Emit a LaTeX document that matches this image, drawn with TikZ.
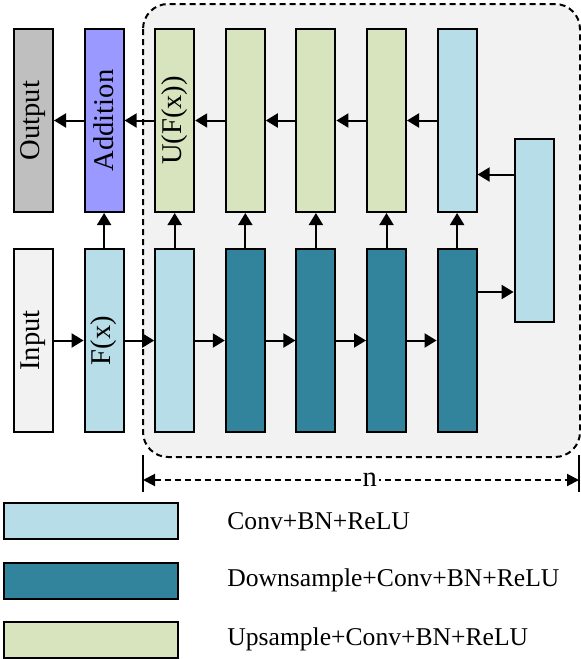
\documentclass[tikz,border=0pt]{standalone}
\usepackage{fontspec}
\setmainfont{Liberation Serif}
\usepackage{xcolor}
\definecolor{convBlue}{HTML}{B7DDE8}
\definecolor{downTeal}{HTML}{31849B}
\definecolor{upGreen}{HTML}{D7E4BD}
\definecolor{outGray}{HTML}{BFBFBF}
\definecolor{addViolet}{HTML}{9999FF}
\definecolor{inGray}{HTML}{F2F2F2}
\usetikzlibrary{arrows.meta, positioning, calc}

\begin{document}
\begin{tikzpicture}[
    x=0.5pt, y=-0.5pt,
    node distance=17.5pt and 14.8pt,
    layer/.style={rectangle, draw=black, line width=1pt, minimum width=19.5pt, minimum height=91.5pt, inner sep=0pt, font=\fontsize{14.3}{16}\selectfont},
    legbox/.style={rectangle, draw=black, line width=1pt, minimum width=87pt, minimum height=18pt, inner sep=0pt},
    legtext/.style={anchor=west, inner sep=0pt, font=\fontsize{12.8}{15}\selectfont},
    arrow/.style={-{Triangle[length=6pt, width=7pt]}, line width=1pt},
    dim_arrow/.style={{Triangle[length=6pt, width=6pt]}-{Triangle[length=6pt, width=6pt]}, line width=1pt, densely dashed}
]
    \useasboundingbox (0,0) rectangle (581,659);

    % Repeated block
    \draw[densely dashed, line width=1pt, fill=inGray, rounded corners=12.5pt] (143,4) rectangle (580,457);

    % Nodes: lower row
    \node[layer, fill=inGray] (input) at (33.5,340.5) {\rotatebox{90}{Input}};
    \node[layer, fill=convBlue, right=of input] (fx) {\rotatebox{90}{F(x)}};
    \node[layer, fill=convBlue, right=of fx] (c1) {};
    \node[layer, fill=downTeal, right=of c1] (d1) {};
    \node[layer, fill=downTeal, right=of d1] (d2) {};
    \node[layer, fill=downTeal, right=of d2] (d3) {};
    \node[layer, fill=downTeal, right=of d3] (d4) {};

    % Nodes: upper row
    \node[layer, fill=outGray, above=of input] (output) {\rotatebox{90}{Output}};
    \node[layer, fill=addViolet, above=of fx] (add) {\rotatebox{90}{Addition}};
    \node[layer, fill=upGreen, above=of c1] (u1) {\rotatebox{90}{U(F(x))}};
    \node[layer, fill=upGreen, above=of d1] (u2) {};
    \node[layer, fill=upGreen, above=of d2] (u3) {};
    \node[layer, fill=upGreen, above=of d3] (u4) {};
    \node[layer, fill=convBlue, above=of d4] (u5) {};

    % Bottleneck
    \coordinate (mid) at ($(u5.east)!0.5!(d4.east)$);
    \node[layer, fill=convBlue, right=18pt of mid] (bott) {};

    % Connections
    \draw[arrow] (input) -- (fx);
    \draw[arrow] (fx) -- (c1);
    \draw[arrow] (c1) -- (d1);
    \draw[arrow] (d1) -- (d2);
    \draw[arrow] (d2) -- (d3);
    \draw[arrow] (d3) -- (d4);

    \draw[arrow] (fx) -- (add);
    \draw[arrow] (c1) -- (u1);
    \draw[arrow] (d1) -- (u2);
    \draw[arrow] (d2) -- (u3);
    \draw[arrow] (d3) -- (u4);
    \draw[arrow] (d4) -- (u5);

    \draw[arrow] (u5) -- (u4);
    \draw[arrow] (u4) -- (u3);
    \draw[arrow] (u3) -- (u2);
    \draw[arrow] (u2) -- (u1);
    \draw[arrow] (u1) -- (add);
    \draw[arrow] (add) -- (output);

    \coordinate (dsplit) at ($(d4.east)+(0,-48.5)$);
    \draw[arrow] (dsplit) -- (dsplit -| bott.west);
    \coordinate (bsplit) at ($(bott.west)+(0,-56)$);
    \draw[arrow] (bsplit) -- (bsplit -| u5.east);

    % Dimension n
    \coordinate (nL) at (143,480);
    \coordinate (nR) at (579,480);
    \draw[line width=1pt] ($(nL)+(0,-25)$) -- ($(nL)+(0,12)$);
    \draw[line width=1pt] ($(nR)+(0,-25)$) -- ($(nR)+(0,12)$);
    \draw[dim_arrow] (nL) -- node[fill=white, inner sep=1pt, pos=0.52, font=\fontsize{14.3}{16}\selectfont] {n} (nR);

    % Legend
    \node[legbox, fill=convBlue] (leg1) at (91,521) {};
    \node[legbox, fill=downTeal] (leg2) at (91,580.5) {};
    \node[legbox, fill=upGreen] (leg3) at (91,639.5) {};
    \node[legtext] at (227,521) {Conv+BN+ReLU};
    \node[legtext] at (227,580.5) {Downsample+Conv+BN+ReLU};
    \node[legtext] at (227,639.5) {Upsample+Conv+BN+ReLU};

\end{tikzpicture}
\end{document}
